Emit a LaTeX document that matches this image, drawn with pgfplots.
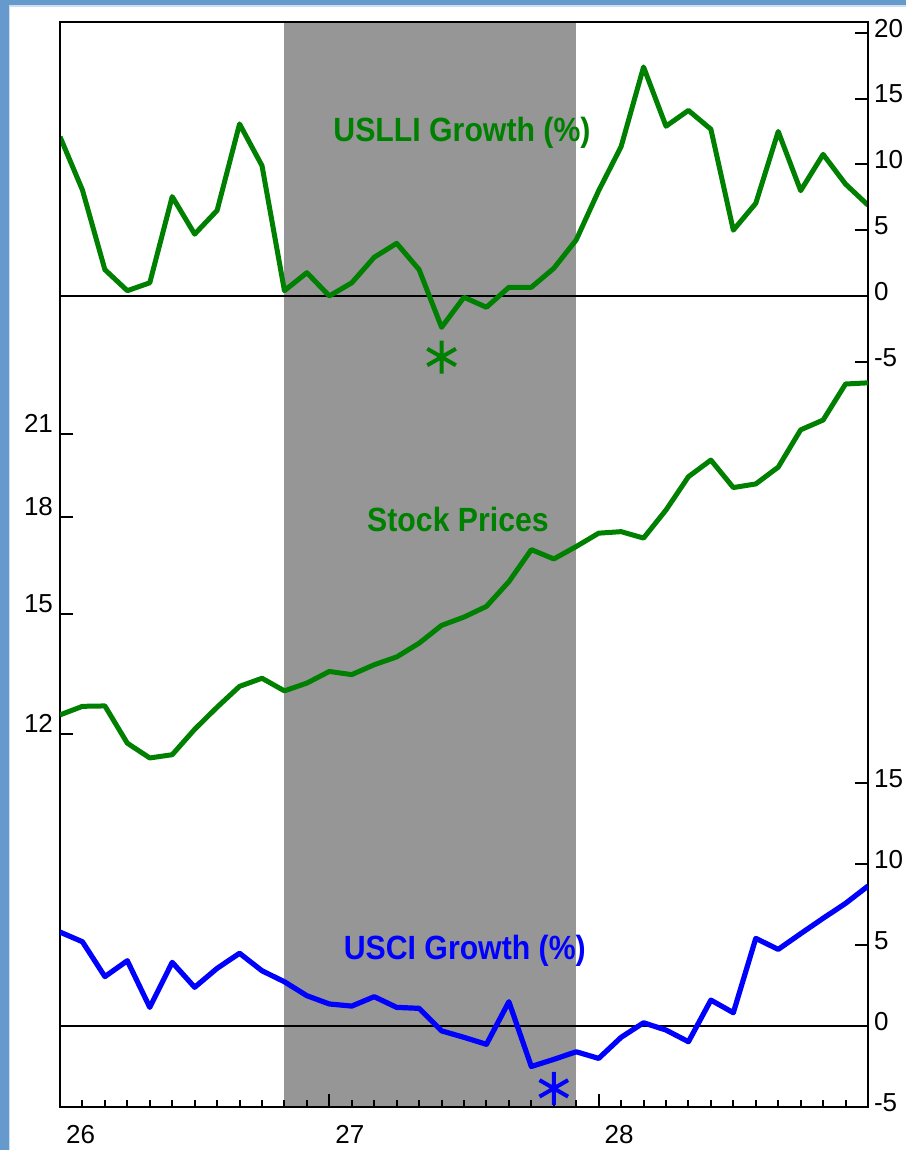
\documentclass[border=0pt]{standalone}
\usepackage{fontspec}
\setmainfont{Liberation Sans}
\usepackage{graphicx}
\usepackage{pgfplots}
\pgfplotsset{compat=1.18}
\definecolor{lliGreen}{RGB}{0,128,0}
\definecolor{usciBlue}{RGB}{0,0,255}
\definecolor{recession}{RGB}{150,150,150}
\definecolor{frameBlue}{RGB}{102,153,204}
\definecolor{frameLight}{RGB}{205,222,240}

% one px of the reference = 0.5pt
\pgfplotsset{
  panel/.style={at={(30pt,21.5pt)}, anchor=south west, scale only axis,
    width=404pt, height=542.5pt, xmin=0, xmax=36,
    tick style={line width=1pt, black}, major tick length=6.5pt, minor tick length=3.5pt,
    tick label style={font=\fontsize{13}{13}\selectfont}},
  ghost/.style={axis line style={draw=none}, xtick=\empty},
}
\tikzset{seriestitle/.style={font=\fontsize{16.8}{18}\selectfont\bfseries}}

\pgfplotstableread{
m v
0 12.1
1 8.05
2 2.0
3 0.4
4 1.0
5 7.55
6 4.7
7 6.5
8 13.07
9 9.9
10 0.4
11 1.77
12 0.0
13 1.0
14 2.94
15 4.0
16 2.0
17 -2.38
18 -0.1
19 -0.86
20 0.66
21 0.66
22 2.1
23 4.26
24 8.0
25 11.35
26 17.4
27 12.9
28 14.1
29 12.67
30 5.0
31 7.04
32 12.5
33 8.0
34 10.76
35 8.5
36 6.9
}\uslli

\pgfplotstableread{
m v
0 12.43
1 12.63
2 12.64
3 11.79
4 11.47
5 11.54
6 12.1
7 12.61
8 13.11
9 13.31
10 13.0
11 13.19
12 13.48
13 13.4
14 13.65
15 13.85
16 14.21
17 14.69
18 14.92
19 15.22
20 15.94
21 16.92
22 16.63
23 17.02
24 17.45
25 17.5
26 17.29
27 18.22
28 19.39
29 20.0
30 19.0
31 19.13
32 19.74
33 21.16
34 21.55
35 23.05
36 23.1
}\stocks

\pgfplotstableread{
m v
0 5.8
1 5.2
2 3.05
3 4.03
4 1.15
5 3.93
6 2.39
7 3.56
8 4.49
9 3.41
10 2.73
11 1.87
12 1.36
13 1.23
14 1.81
15 1.15
16 1.09
17 -0.3
18 -0.7
19 -1.13
20 1.5
21 -2.5
22 -2.06
23 -1.59
24 -2.0
25 -0.7
26 0.2
27 -0.25
28 -0.97
29 1.6
30 0.82
31 5.41
32 4.73
33 5.7
34 6.65
35 7.57
36 8.64
}\usci

\begin{document}
\begin{tikzpicture}
  \fill[white] (0,0) rectangle (453pt,575pt);
  \fill[frameLight] (0,0) rectangle (5pt,572.5pt);
  \fill[frameLight] (0,571.5pt) rectangle (453pt,575pt);
  \fill[frameBlue] (0,0) rectangle (4.25pt,575pt);
  \fill[frameBlue] (0,572.25pt) rectangle (453pt,575pt);

  % top panel: USLLI growth, recession shading, month axis
  \begin{axis}[panel, ymin=-61.63, ymax=20.82, axis on top,
    axis line style={line width=1pt},
    xtick={0,12,24}, xticklabels={26,27,28}, minor xtick={1,...,35}, xtick pos=bottom,
    xticklabel style={anchor=north west, xshift=-0.5pt, yshift=-5.5pt},
    ytick={-5,0,5,10,15,20}, yticklabels={-5,0,5,10,15,20},
    ytick pos=right, yticklabel pos=right,
    yticklabel style={anchor=west, xshift=-0.5pt, yshift=2.25pt}]
    \fill[recession] (axis cs:10,-61.63) rectangle (axis cs:23,20.82);
    \addplot[black, line width=0.85pt] coordinates {(0,0) (36,0)};
    \addplot[lliGreen, line width=2.5pt, line join=round] table[x=m, y=v] {\uslli};
    \addplot[lliGreen, only marks, mark=asterisk, mark size=8.25pt, line width=2pt] coordinates {(17,-4.64)};
    \node[seriestitle, text=lliGreen] at (rel axis cs:0.4975,0.8977) {\scalebox{0.9}[1]{USLLI Growth (\%)}};
    \node[seriestitle, text=lliGreen] at (rel axis cs:0.4926,0.5419) {\scalebox{0.9}[1]{Stock Prices}};
    \node[seriestitle, text=usciBlue] at (rel axis cs:0.501,0.1438) {\scalebox{0.9}[1]{USCI Growth (\%)}};
  \end{axis}

  % middle panel: stock prices, log scale on the left
  \begin{axis}[panel, ghost, ymode=log, ymin=5.98, ymax=45.3,
    ytick={12,15,18,21}, yticklabels={12,15,18,21}, yminorticks=false,
    ytick pos=left, yticklabel pos=left,
    yticklabel style={anchor=base east, yshift=0.75pt}]
    \addplot[lliGreen, line width=2.5pt, line join=round] table[x=m, y=v] {\stocks};
  \end{axis}

  % bottom panel: USCI growth
  \begin{axis}[panel, ghost, ymin=-5, ymax=61.98,
    ytick={-5,0,5,10,15}, yticklabels={-5,0,5,10,15},
    ytick pos=right, yticklabel pos=right,
    yticklabel style={anchor=west, xshift=-0.5pt, yshift=2.25pt}]
    \addplot[black, line width=0.85pt] coordinates {(0,0) (36,0)};
    \addplot[usciBlue, line width=2.6pt, line join=round] table[x=m, y=v] {\usci};
    \addplot[usciBlue, only marks, mark=asterisk, mark size=8.25pt, line width=2pt] coordinates {(22,-3.85)};
  \end{axis}

  \pgfresetboundingbox
  \path[use as bounding box] (0,0) rectangle (453pt,575pt);
\end{tikzpicture}
\end{document}
